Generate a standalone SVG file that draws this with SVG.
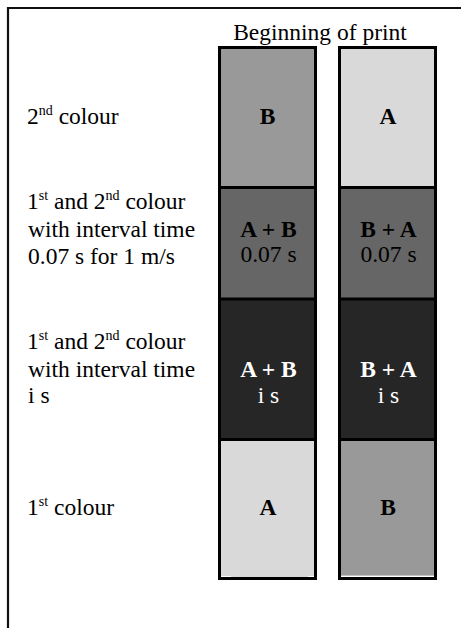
<svg xmlns="http://www.w3.org/2000/svg" width="461" height="628" viewBox="0 0 461 628">
<style>
text{font-family:"Liberation Serif","Times New Roman",serif;font-size:23.5px;fill:#000}
.b{font-weight:bold}
.c{text-anchor:middle}
.w{fill:#fff}
.sup{font-size:14px}
.col{stroke:#000;stroke-width:3}
.div{stroke:#000;stroke-width:3}
</style>
<rect width="461" height="628" fill="#fff"/>
<path d="M8 628 V8 H461" fill="none" stroke="#111" stroke-width="2.2"/>
<text class="c" x="320" y="40">Beginning of print</text>
<g id="labels">
<text x="27" y="124">2<tspan class="sup" dy="-9">nd</tspan><tspan dy="9"> colour</tspan></text>
<text x="27" y="209">1<tspan class="sup" dy="-9">st</tspan><tspan dy="9"> and 2</tspan><tspan class="sup" dy="-9">nd</tspan><tspan dy="9"> colour</tspan></text>
<text x="28" y="237">with interval time</text>
<text x="28" y="264">0.07 s for 1 m/s</text>
<text x="27" y="349">1<tspan class="sup" dy="-9">st</tspan><tspan dy="9"> and 2</tspan><tspan class="sup" dy="-9">nd</tspan><tspan dy="9"> colour</tspan></text>
<text x="28" y="377">with interval time</text>
<text x="28" y="403">i s</text>
<text x="27" y="515">1<tspan class="sup" dy="-9">st</tspan><tspan dy="9"> colour</tspan></text>
</g>
<g id="left-column">
<rect x="219.5" y="47.5" width="96" height="140" fill="#999"/>
<rect x="219.5" y="187.5" width="96" height="111.5" fill="#666"/>
<rect x="219.5" y="299" width="96" height="140.5" fill="#262626"/>
<rect x="219.5" y="439.5" width="96" height="139" fill="#d9d9d9"/>
<rect x="221" y="576" width="10" height="1.2" fill="#fff"/>
<rect x="308" y="576" width="6" height="1.2" fill="#fff"/>
<path class="div" d="M219.5 187.5 H315.5 M219.5 299 H315.5 M219.5 439.5 H315.5"/>
<rect class="col" x="219.5" y="47.5" width="96" height="531" fill="none"/>
<text class="b c" x="267.5" y="124">B</text>
<text class="b c" x="268.5" y="237" fill="#111">A + B</text>
<text class="c" x="268.5" y="262" fill="#1a1a1a">0.07 s</text>
<text class="b c w" x="268.5" y="377">A + B</text>
<text class="c w" x="268.5" y="403" fill="#eee">i s</text>
<text class="b c" x="268" y="515">A</text>
</g>
<g id="right-column">
<rect x="339.5" y="47.5" width="96" height="140" fill="#d9d9d9"/>
<rect x="339.5" y="187.5" width="96" height="111.5" fill="#666"/>
<rect x="339.5" y="299" width="96" height="140.5" fill="#262626"/>
<rect x="339.5" y="439.5" width="96" height="139" fill="#999"/>
<rect x="341" y="575.6" width="93" height="1.4" fill="#fff"/>
<path class="div" d="M339.5 187.5 H435.5 M339.5 299 H435.5 M339.5 439.5 H435.5"/>
<rect class="col" x="339.5" y="47.5" width="96" height="531" fill="none"/>
<text class="b c" x="388" y="124">A</text>
<text class="b c" x="388.5" y="237" fill="#111">B + A</text>
<text class="c" x="388.5" y="262" fill="#1a1a1a">0.07 s</text>
<text class="b c w" x="388.5" y="377">B + A</text>
<text class="c w" x="388.5" y="403" fill="#eee">i s</text>
<text class="b c" x="388" y="515">B</text>
</g>
<g id="connectors"/>
</svg>
